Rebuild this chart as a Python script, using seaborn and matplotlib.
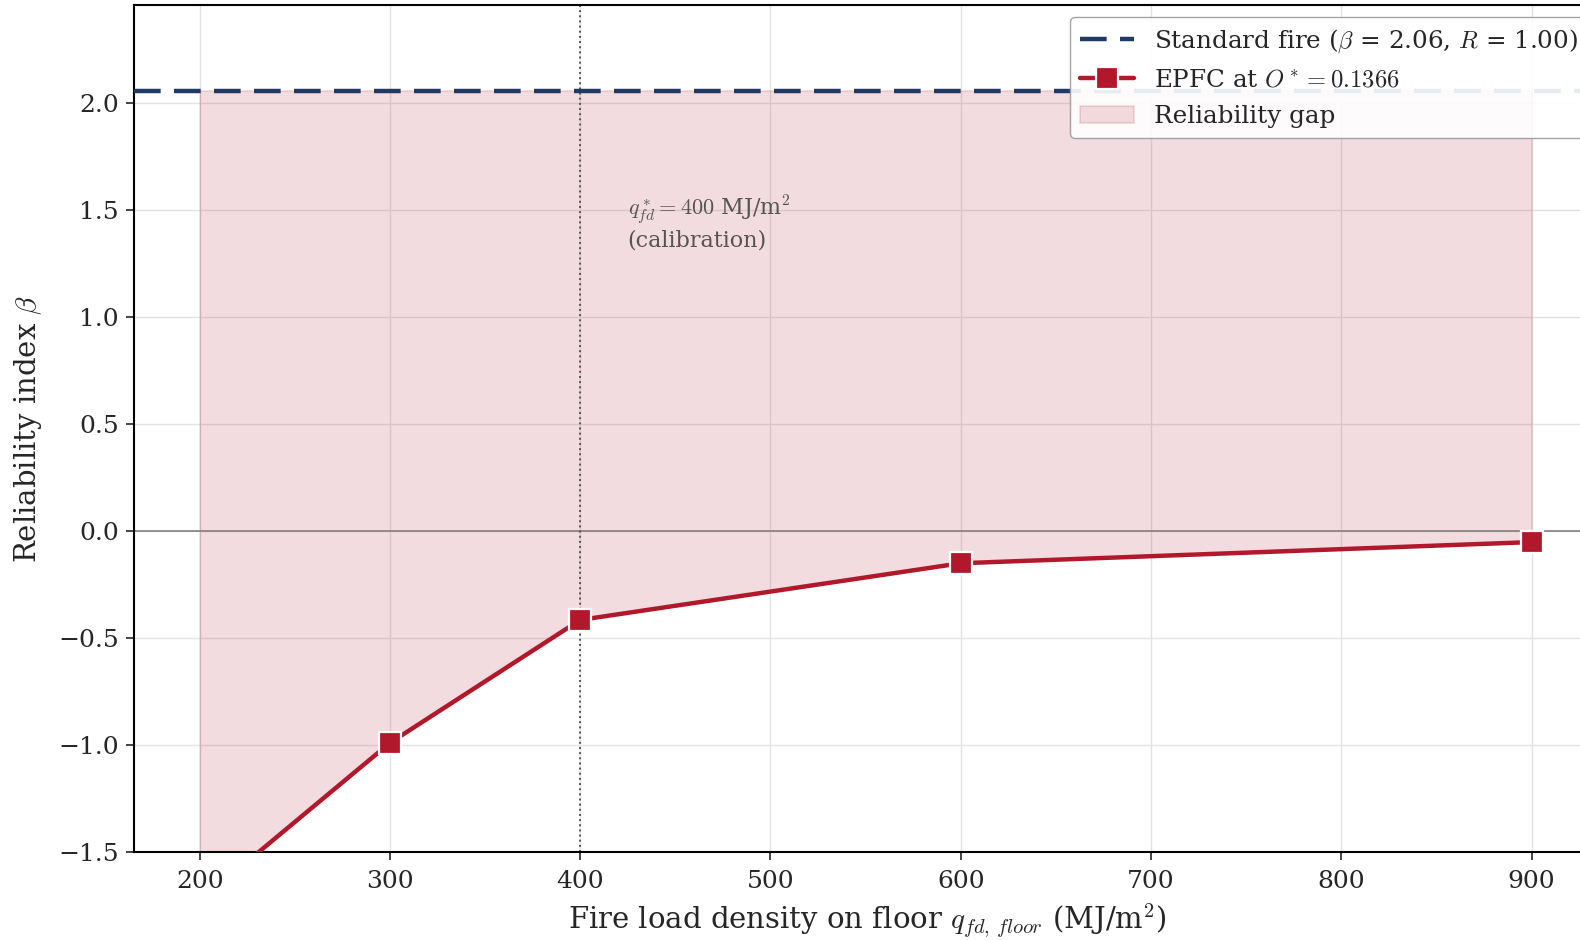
import numpy as np
import pandas as pd
import matplotlib
matplotlib.use("Agg")
import matplotlib.pyplot as plt
import seaborn as sns

# data
fire_load = [200, 300, 400, 600, 900]
beta_epfc = [-1.73, -0.99, -0.415, -0.15, -0.051]
beta_standard = 2.06
q_calib = 400

df = pd.DataFrame({"q": fire_load, "beta": beta_epfc})

sns.set_style("ticks")
plt.rcParams["font.family"] = ["DejaVu Serif"]
plt.rcParams["mathtext.fontset"] = "cm"

red = "#b2182b"
navy = "#1f3a64"

fig = plt.figure(figsize=(15.8, 9.4), dpi=100)
# axes runs past the right edge, like the cropped reference
ax = fig.add_axes([134 / 1580, 88 / 940, 1466 / 1580, 847 / 940])

ax.grid(True, color="#e3e3e3", linewidth=1.0)
ax.set_axisbelow(True)

ax.fill_between(df["q"], df["beta"], beta_standard, color=red, alpha=0.15,
                linewidth=1.2, label="Reliability gap", zorder=1)
ax.axhline(0, color="#808080", linewidth=1.2, zorder=2)
ax.axvline(q_calib, color="#555555", linestyle=":", linewidth=1.4, zorder=2)
ax.axhline(beta_standard, color=navy, linestyle=(0, (6, 3)), linewidth=3.2,
           label=r"Standard fire ($\beta$ = 2.06, $R$ = 1.00)", zorder=3)

sns.lineplot(data=df, x="q", y="beta", ax=ax, color=red, linewidth=3.2,
             marker="s", markersize=16, markeredgecolor="white",
             markeredgewidth=1.6, label=r"EPFC at $O^* = 0.1366$", zorder=4)

ax.text(425, 1.58, "$q^*_{fd} = 400$ MJ/m$^2$\n(calibration)", fontsize=16,
        color="#555555", va="top", ha="left", zorder=5)

ax.set_xlim(165.5, 936)
ax.set_ylim(-1.5, 2.46)
ax.set_xticks([200, 300, 400, 500, 600, 700, 800, 900])
ax.set_yticks([-1.5, -1.0, -0.5, 0.0, 0.5, 1.0, 1.5, 2.0])
ax.tick_params(labelsize=18, length=6, width=1.2)
ax.tick_params(axis="x", pad=7)
ax.tick_params(axis="y", pad=5)
for s in ax.spines.values():
    s.set_linewidth(1.5)
    s.set_color("black")

ax.set_xlabel(r"Fire load density on floor $q_{fd,\,floor}$ (MJ/m$^2$)",
              fontsize=21, labelpad=6)
ax.set_ylabel(r"Reliability index $\beta$", fontsize=21, labelpad=10)

h, l = ax.get_legend_handles_labels()
order = [l.index(r"Standard fire ($\beta$ = 2.06, $R$ = 1.00)"),
         l.index(r"EPFC at $O^* = 0.1366$"), l.index("Reliability gap")]
leg = ax.legend([h[i] for i in order], [l[i] for i in order], loc="upper right",
                fontsize=17.7, frameon=True, framealpha=0.9, edgecolor="#999999",
                borderaxespad=0.5, handlelength=2.2, labelspacing=0.55)

fig.savefig("out.png", dpi=100)
